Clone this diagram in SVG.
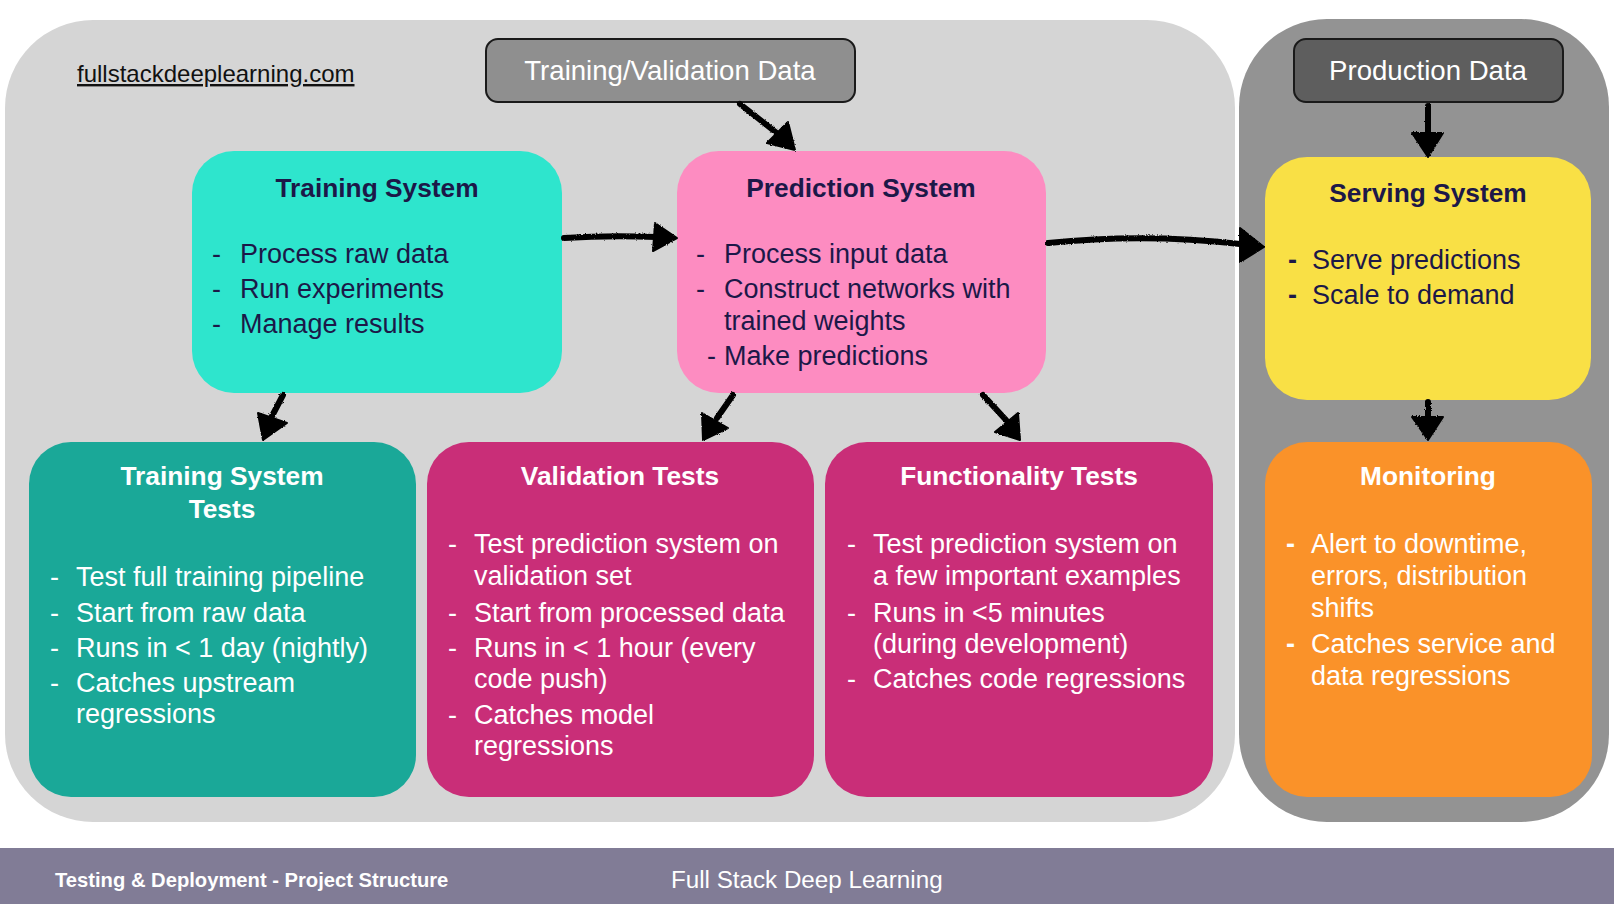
<svg xmlns="http://www.w3.org/2000/svg" width="1614" height="904" viewBox="0 0 1614 904">
<defs>
<style>
text{font-family:"Liberation Sans",Arial,Helvetica,sans-serif;}
.title{font-size:26.3px;font-weight:bold;text-anchor:middle;}
.body{font-size:27px;}
.dark{fill:#1c1848;}
.light{fill:#ffffff;}
.data{font-size:27.6px;fill:#ffffff;text-anchor:middle;}
.arrow{stroke:#000;stroke-width:6;fill:none;stroke-linecap:round;stroke-linejoin:round;}
.head{fill:#000;stroke:#000;stroke-width:2;stroke-linejoin:round;}
</style>
<filter id="rough" x="-10%" y="-10%" width="120%" height="120%">
<feTurbulence type="fractalNoise" baseFrequency="0.9" numOctaves="2" seed="3" result="n"/>
<feDisplacementMap in="SourceGraphic" in2="n" scale="2.5" xChannelSelector="R" yChannelSelector="G"/>
</filter>
</defs>
<rect width="1614" height="904" fill="#ffffff"/>
<g id="dev-area">
<rect x="5" y="20" width="1230" height="802" rx="88" ry="88" fill="#d5d5d5"/>
</g>
<g id="prod-area">
<rect x="1239" y="19" width="370" height="803" rx="88" ry="88" fill="#939393"/>
</g>
<g id="footer">
<rect x="0" y="848" width="1614" height="56" fill="#817c96"/>
<text x="55" y="887" font-size="20.2" font-weight="bold" fill="#ffffff">Testing &amp; Deployment - Project Structure</text>
<text x="671" y="888" font-size="24.2" fill="#ffffff">Full Stack Deep Learning</text>
</g>
<g id="url">
<text x="77" y="82" font-size="24" fill="#111" text-decoration="underline">fullstackdeeplearning.com</text>
</g>
<g id="training-validation-data">
<rect x="486" y="39" width="369" height="63" rx="12" fill="#8f8f8f" stroke="#1a1a1a" stroke-width="2"/>
<text class="data" x="670" y="80">Training/Validation Data</text>
</g>
<g id="production-data">
<rect x="1294" y="39" width="269" height="63" rx="12" fill="#5e5e5e" stroke="#1a1a1a" stroke-width="2"/>
<text class="data" x="1428" y="80">Production Data</text>
</g>
<g id="training-system">
<rect x="192" y="151" width="370" height="242" rx="42" fill="#2ee5cd"/>
<text class="title dark" x="377" y="197">Training System</text>
<g class="body dark">
<text x="212" y="263">-</text><text x="240" y="263">Process raw data</text>
<text x="212" y="298">-</text><text x="240" y="298">Run experiments</text>
<text x="212" y="333">-</text><text x="240" y="333">Manage results</text>
</g>
</g>
<g id="prediction-system">
<rect x="677" y="151" width="369" height="242" rx="42" fill="#fd8cc1"/>
<text class="title dark" x="861" y="197">Prediction System</text>
<g class="body dark">
<text x="696" y="263">-</text><text x="724" y="263">Process input data</text>
<text x="696" y="298">-</text><text x="724" y="298">Construct networks with</text>
<text x="724" y="330">trained weights</text>
<text x="707" y="365">-</text><text x="724" y="365">Make predictions</text>
</g>
</g>
<g id="serving-system">
<rect x="1265" y="157" width="326" height="243" rx="42" fill="#f9e045"/>
<text class="title dark" x="1428" y="202">Serving System</text>
<g class="body dark">
<text x="1288" y="269" font-weight="bold">-</text><text x="1312" y="269">Serve predictions</text>
<text x="1288" y="304" font-weight="bold">-</text><text x="1312" y="304">Scale to demand</text>
</g>
</g>
<g id="training-system-tests">
<rect x="29" y="442" width="387" height="355" rx="42" fill="#1aa898"/>
<text class="title light" x="222" y="485">Training System</text>
<text class="title light" x="222" y="518">Tests</text>
<g class="body light">
<text x="50" y="586">-</text><text x="76" y="586">Test full training pipeline</text>
<text x="50" y="622">-</text><text x="76" y="622">Start from raw data</text>
<text x="50" y="657">-</text><text x="76" y="657">Runs in &lt; 1 day (nightly)</text>
<text x="50" y="692">-</text><text x="76" y="692">Catches upstream</text>
<text x="76" y="723">regressions</text>
</g>
</g>
<g id="validation-tests">
<rect x="427" y="442" width="387" height="355" rx="42" fill="#c92e78"/>
<text class="title light" x="620" y="485">Validation Tests</text>
<g class="body light">
<text x="448" y="553">-</text><text x="474" y="553">Test prediction system on</text>
<text x="474" y="585">validation set</text>
<text x="448" y="622">-</text><text x="474" y="622">Start from processed data</text>
<text x="448" y="657">-</text><text x="474" y="657">Runs in &lt; 1 hour (every</text>
<text x="474" y="688">code push)</text>
<text x="448" y="724">-</text><text x="474" y="724">Catches model</text>
<text x="474" y="755">regressions</text>
</g>
</g>
<g id="functionality-tests">
<rect x="825" y="442" width="388" height="355" rx="42" fill="#c92e78"/>
<text class="title light" x="1019" y="485">Functionality Tests</text>
<g class="body light">
<text x="847" y="553">-</text><text x="873" y="553">Test prediction system on</text>
<text x="873" y="585">a few important examples</text>
<text x="847" y="622">-</text><text x="873" y="622">Runs in &lt;5 minutes</text>
<text x="873" y="653">(during development)</text>
<text x="847" y="688">-</text><text x="873" y="688">Catches code regressions</text>
</g>
</g>
<g id="monitoring">
<rect x="1265" y="442" width="327" height="355" rx="42" fill="#fa9229"/>
<text class="title light" x="1428" y="485">Monitoring</text>
<g class="body light">
<text x="1286" y="553" font-weight="bold">-</text><text x="1311" y="553">Alert to downtime,</text>
<text x="1311" y="585">errors, distribution</text>
<text x="1311" y="617">shifts</text>
<text x="1286" y="653" font-weight="bold">-</text><text x="1311" y="653">Catches service and</text>
<text x="1311" y="685">data regressions</text>
</g>
</g>
<g id="connectors" filter="url(#rough)">
<path class="arrow" d="M740 104 L778 134"/>
<polygon class="head" points="788,122 795,150 767,143"/>
<path class="arrow" d="M564 238 Q610 235 656 237"/>
<polygon class="head" points="655,223 677,238 653,251"/>
<path class="arrow" d="M1048 243 Q1145 233 1240 244" stroke-width="7"/>
<polygon class="head" points="1240,228 1264,247 1240,262"/>
<path class="arrow" d="M1428 106 L1428 134"/>
<polygon class="head" points="1412,133 1443,133 1428,157"/>
<path class="arrow" d="M1428 402 L1428 418"/>
<polygon class="head" points="1412,417 1443,417 1428,440"/>
<path class="arrow" d="M283 395 L271 418"/>
<polygon class="head" points="258,413 287,423 263,440"/>
<path class="arrow" d="M733 395 L717 418"/>
<polygon class="head" points="702,413 728,428 703,440"/>
<path class="arrow" d="M983 395 L1006 420"/>
<polygon class="head" points="1018,413 995,432 1020,440"/>
</g>
</svg>
